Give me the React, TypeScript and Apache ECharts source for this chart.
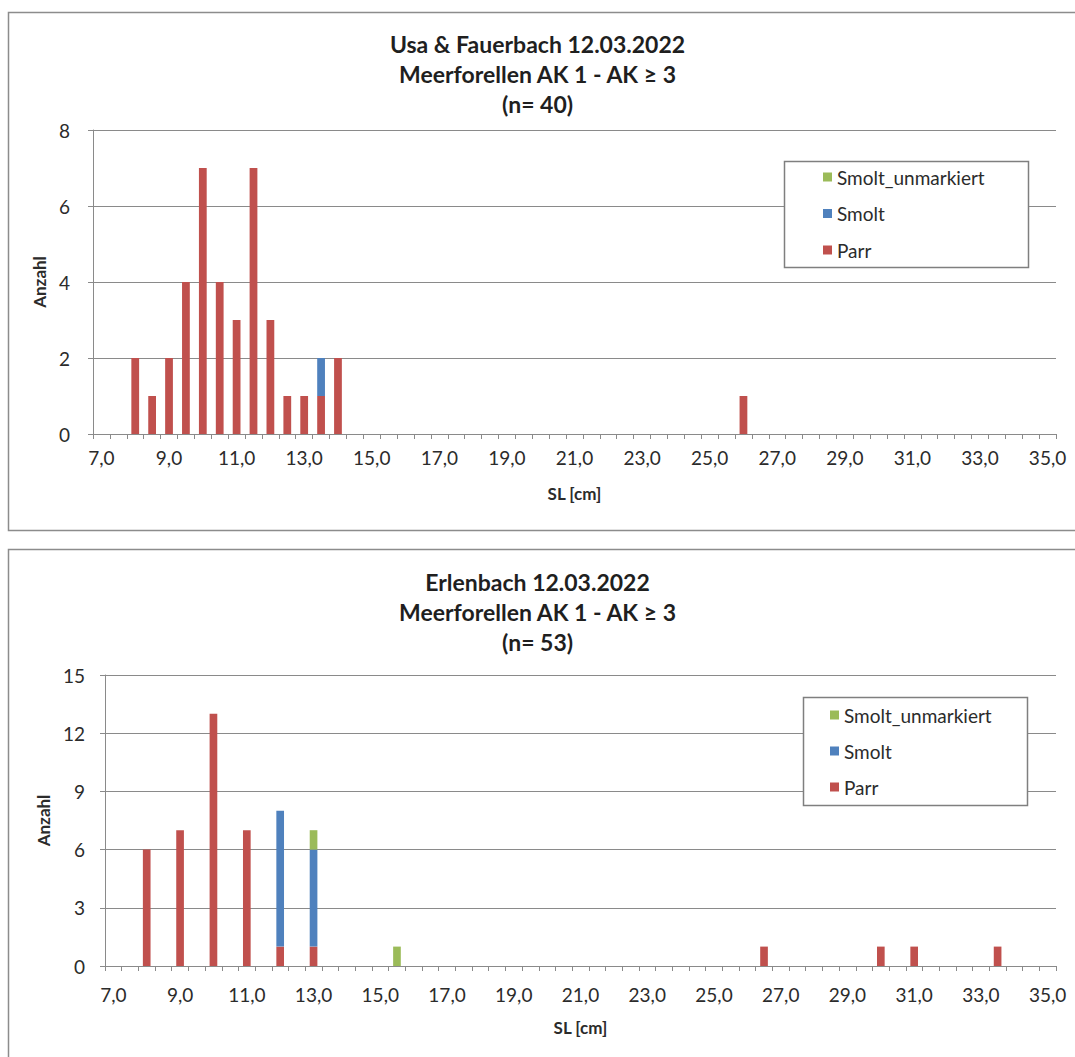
import React, { useEffect, useRef } from "react";
import * as echarts from "echarts";

const categories = [
  "7,0","7,5","8,0","8,5","9,0","9,5","10,0","10,5","11,0","11,5","12,0","12,5","13,0","13,5","14,0","14,5",
  "15,0","15,5","16,0","16,5","17,0","17,5","18,0","18,5","19,0","19,5","20,0","20,5","21,0","21,5","22,0","22,5",
  "23,0","23,5","24,0","24,5","25,0","25,5","26,0","26,5","27,0","27,5","28,0","28,5","29,0","29,5","30,0","30,5",
  "31,0","31,5","32,0","32,5","33,0","33,5","34,0","34,5","35,0",
];

const seriesNames = ["Parr", "Smolt", "Smolt_unmarkiert"];
const legendOrder = ["Smolt_unmarkiert", "Smolt", "Parr"];
const colors = ["#C0504D", "#4F81BD", "#9BBB59"];

// Chart 1: Usa & Fauerbach
const title1 = "Usa & Fauerbach 12.03.2022\nMeerforellen AK 1 - AK ≥ 3\n(n= 40)";
const parr1: [string, number][] = [
  ["8,0", 2], ["8,5", 1], ["9,0", 2], ["9,5", 4], ["10,0", 7], ["10,5", 4], ["11,0", 3],
  ["11,5", 7], ["12,0", 3], ["12,5", 1], ["13,0", 1], ["13,5", 1], ["14,0", 2], ["26,0", 1],
];
const smolt1: [string, number][] = [["13,5", 1]];
const smoltUnm1: [string, number][] = [];
const yTicks1 = [0, 2, 4, 6, 8];

// Chart 2: Erlenbach
const title2 = "Erlenbach 12.03.2022\nMeerforellen AK 1 - AK ≥ 3\n(n= 53)";
const parr2: [string, number][] = [
  ["8,0", 6], ["9,0", 7], ["10,0", 13], ["11,0", 7], ["12,0", 1], ["13,0", 1],
  ["26,5", 1], ["30,0", 1], ["31,0", 1], ["33,5", 1],
];
const smolt2: [string, number][] = [["12,0", 7], ["13,0", 5]];
const smoltUnm2: [string, number][] = [["13,0", 1], ["15,5", 1]];
const yTicks2 = [0, 3, 6, 9, 12, 15];

function full(pairs: [string, number][]) {
  const m = new Map(pairs);
  return categories.map((c) => (m.has(c) ? m.get(c)! : 0));
}

const FONT = "Lato";
const LINE = "#8a8a8a";
const TXT = "#2b2b2b";

export default function App() {
  const ref = useRef<HTMLDivElement>(null);
  useEffect(() => {
    const chart = echarts.init(ref.current!, null, { renderer: "svg" });
    const grids = [
      { left: 93, top: 130, width: 963, height: 304 },
      { left: 105, top: 675, width: 951, height: 291 },
    ];
    const yT = [yTicks1, yTicks2];
    const xAxes = [0, 1].map((i) => ({
      type: "category",
      gridIndex: i,
      data: categories,
      boundaryGap: true,
      name: "SL [cm]",
      nameLocation: "middle",
      nameGap: i === 0 ? 51 : 53,
      nameTextStyle: { fontFamily: FONT, fontWeight: "bold", fontSize: 17, color: TXT },
      axisLine: { lineStyle: { color: LINE, width: 1 } },
      axisTick: { show: true, interval: 0, length: 5, lineStyle: { color: LINE } },
      axisLabel: { interval: 3, fontFamily: FONT, fontSize: 19, color: TXT, margin: i === 0 ? 14 : 19 },
      splitLine: { show: false },
    }));
    const yAxes = [0, 1].map((i) => ({
      type: "value",
      gridIndex: i,
      min: 0,
      max: yT[i][yT[i].length - 1],
      interval: yT[i][1] - yT[i][0],
      name: "Anzahl",
      nameLocation: "middle",
      nameGap: i === 0 ? 40 : 52,
      nameRotate: 90,
      nameTextStyle: { fontFamily: FONT, fontWeight: "bold", fontSize: 17, color: TXT },
      axisLine: { show: true, lineStyle: { color: LINE, width: 1 } },
      axisTick: { show: true, length: 5, lineStyle: { color: LINE } },
      axisLabel: { fontFamily: FONT, fontSize: 19, color: TXT, margin: i === 0 ? 23 : 20 },
      splitLine: { show: true, lineStyle: { color: LINE, width: 1 } },
    }));
    const data = [
      [parr1, smolt1, smoltUnm1],
      [parr2, smolt2, smoltUnm2],
    ];
    const series: any[] = [];
    [0, 1].forEach((g) => {
      seriesNames.forEach((name, k) => {
        series.push({
          type: "bar",
          name,
          xAxisIndex: g,
          yAxisIndex: g,
          stack: "s" + g,
          barWidth: "46%",
          itemStyle: { color: colors[k] },
          data: full(data[g][k]),
        });
      });
    });
    const legendCommon = {
      orient: "vertical",
      data: legendOrder,
      icon: "rect",
      itemWidth: 9,
      itemHeight: 9,
      padding: 0,
      selectedMode: false,
      z: 20,
      textStyle: { fontFamily: FONT, fontSize: 19, color: TXT, lineHeight: 20 },
    };
    const titleStyle = { fontFamily: FONT, fontWeight: "bold", fontSize: 23, color: "#1f1f1f", lineHeight: 30 };
    chart.setOption({
      animation: false,
      backgroundColor: "#ffffff",
      title: [
        { text: title1, left: "center", top: 24, textStyle: titleStyle },
        { text: title2, left: "center", top: 562, textStyle: titleStyle },
      ],
      grid: grids,
      xAxis: xAxes,
      yAxis: yAxes,
      legend: [
        { ...legendCommon, left: 823, top: 167, itemGap: 16.5 },
        { ...legendCommon, left: 830, top: 705, itemGap: 16 },
      ],
      graphic: [
        { type: "rect", z: 1, shape: { x: 8.5, y: 12.5, width: 1100, height: 518 }, style: { fill: "none", stroke: "#8c8c8c", lineWidth: 1.5 } },
        { type: "rect", z: 1, shape: { x: 8.5, y: 549.5, width: 1100, height: 600 }, style: { fill: "none", stroke: "#8c8c8c", lineWidth: 1.5 } },
        { type: "rect", z: 10, shape: { x: 784.5, y: 161.5, width: 244, height: 106 }, style: { fill: "#ffffff", stroke: "#7f7f7f", lineWidth: 1.5 } },
        { type: "rect", z: 10, shape: { x: 803.5, y: 697.5, width: 224, height: 108 }, style: { fill: "#ffffff", stroke: "#7f7f7f", lineWidth: 1.5 } },
      ],
      series,
    });
    return () => chart.dispose();
  }, []);
  return <div ref={ref} style={{ position: "fixed", left: 0, top: 0, width: 1075, height: 1057 }} />;
}
